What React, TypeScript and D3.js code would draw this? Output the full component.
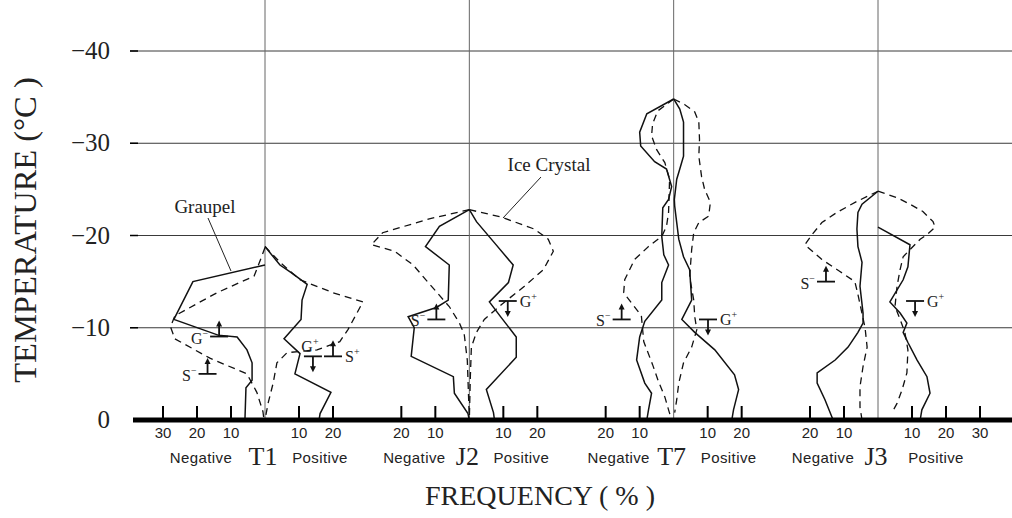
import React from "react";
import * as d3 from "d3";

// Each profile point: [temperature (°C), frequency (%)]
type Pt = [number, number];

const temperatureTicks = [0, -10, -20, -30, -40];
const stations = ["T1", "J2", "T7", "J3"];
const negativeTicks = [[30, 20, 10], [20, 10], [20, 10], [20, 10]];
const positiveTicks = [[10, 20], [10, 20], [10, 20], [10, 20, 30]];

// Graupel (solid) – negatively charged side
const t1GraupelNeg: Pt[] = [[-16.8, 0], [-15.0, 21.2], [-10.9, 26.8], [-9.2, 13.8], [-9.0, 8.2], [-7.6, 5.3], [-6.2, 3.8], [-4.3, 3.8], [-3.5, 5.6], [0, 5.9]];
const j2GraupelNeg: Pt[] = [[-22.8, 0], [-21.0, 8.8], [-18.8, 12.9], [-16.8, 5.9], [-13.0, 6.2], [-12.2, 9.7], [-11.2, 18.0], [-10.0, 16.2], [-6.9, 17.1], [-4.7, 4.7], [-2.9, 4.4], [-0.7, 0.4], [0, 0]];
const t7GraupelNeg: Pt[] = [[-34.8, 0], [-33.2, 7.9], [-31.2, 10.0], [-29.7, 9.7], [-28.0, 5.6], [-27.2, 2.1], [-25.3, 0.6], [-23.9, 1.5], [-23.0, 3.2], [-19.9, 3.5], [-17.9, 2.9], [-16.8, 1.5], [-14.9, 3.5], [-13.0, 3.5], [-10.7, 8.5], [-9.0, 10.0], [-6.5, 10.9], [-4.0, 8.5], [-2.9, 6.5], [-1.1, 7.4], [0, 7.9]];
const j3GraupelNeg: Pt[] = [[-24.8, 0], [-23.4, 4.7], [-22.5, 5.9], [-20.7, 6.2], [-18.8, 5.9], [-17.1, 4.7], [-14.5, 5.3], [-11.6, 4.4], [-10.5, 4.4], [-9.5, 5.9], [-7.9, 8.8], [-6.5, 12.6], [-5.1, 17.9], [-4.0, 17.9], [-2.2, 15.6], [0, 13.2]];

// Graupel (solid) – positively charged side
const t1GraupelPos: Pt[] = [[-18.8, 0], [-16.8, 4.4], [-16.0, 7.6], [-14.7, 12.4], [-13.0, 10.9], [-10.9, 10.6], [-8.8, 5.6], [-7.2, 10.3], [-5.0, 8.8], [-3.0, 19.4], [-0.7, 16.2], [0, 15.9]];
const j2GraupelPos: Pt[] = [[-22.8, 0], [-21.5, 2.1], [-19.2, 7.4], [-16.8, 12.9], [-14.9, 11.5], [-12.8, 5.9], [-11.1, 9.4], [-9.0, 13.8], [-6.8, 13.8], [-3.3, 5.0], [-0.8, 7.1], [0, 7.4]];
const t7GraupelPos: Pt[] = [[-34.8, 0], [-33.7, 1.8], [-32.3, 2.9], [-28.6, 2.9], [-27.2, 1.8], [-26.1, 0.9], [-23.9, 0.2], [-23.2, 0.3], [-21.4, 0.9], [-19.6, 1.5], [-17.7, 2.9], [-16.3, 4.7], [-13.0, 5.3], [-10.9, 2.4], [-9.5, 6.2], [-7.6, 12.1], [-4.9, 17.9], [-3.3, 19.1], [-1.1, 17.6], [0, 17.1]];
const j3GraupelPos: Pt[] = [[-20.9, 0], [-19.0, 9.4], [-16.6, 8.8], [-15.2, 7.4], [-12.8, 3.5], [-11.6, 6.5], [-10.5, 8.5], [-9.5, 7.4], [-8.4, 8.8], [-6.5, 11.5], [-4.7, 14.4], [-2.9, 15.3], [-1.1, 12.9], [0, 12.4]];

// Ice crystal (dashed) – negatively charged side
const t1IceNeg: Pt[] = [[-18.7, 0], [-17.5, 1.2], [-15.6, 3.2], [-13.8, 14.1], [-11.3, 26.5], [-10.1, 27.8], [-8.8, 26.5], [-6.7, 16.2], [-5.0, 5.3], [-3.0, 2.4], [-0.9, 0.6], [0, 0.3]];
const j2IceNeg: Pt[] = [[-22.8, 0], [-21.8, 11.8], [-20.3, 25.5], [-19.0, 28.8], [-18.3, 22.0], [-16.8, 16.5], [-14.9, 12.1], [-12.3, 5.9], [-10.5, 2.9], [-9.3, 1.5], [-6.5, 0.6], [-3.3, 0.3], [0, 0]];
const t7IceNeg: Pt[] = [[-34.8, 0], [-33.5, 4.7], [-32.1, 6.2], [-30.8, 6.5], [-29.3, 5.0], [-27.9, 2.6], [-26.1, 1.2], [-22.5, 1.5], [-21.0, 2.1], [-19.9, 3.5], [-18.8, 7.4], [-17.4, 11.5], [-15.2, 14.4], [-13.8, 14.7], [-11.3, 9.5], [-8.5, 8.8], [-6.0, 6.2], [-4.2, 4.5], [-2.5, 2.6], [-1.1, 1.5], [0, 0.6]];
const j3IceNeg: Pt[] = [[-24.8, 0], [-23.7, 6.2], [-22.5, 12.1], [-21.4, 16.5], [-20.1, 19.4], [-19.0, 21.5], [-17.4, 16.5], [-16.1, 11.2], [-15.0, 6.8], [-13.6, 5.9], [-10.0, 3.8], [-7.9, 3.2], [-5.8, 4.4], [-3.6, 5.3], [-1.4, 5.3], [0, 4.7]];

// Ice crystal (dashed) – positively charged side
const t1IcePos: Pt[] = [[-18.8, 0], [-17.1, 4.4], [-15.2, 10.3], [-13.8, 20.0], [-12.8, 28.8], [-9.8, 24.4], [-8.5, 22.0], [-7.6, 15.3], [-7.3, 6.5], [-6.2, 3.5], [-4.0, 2.4], [-1.8, 0.9], [0, 0]];
const j2IcePos: Pt[] = [[-22.8, 0], [-22.0, 9.4], [-20.7, 19.1], [-19.6, 23.2], [-18.3, 24.7], [-16.3, 21.8], [-14.5, 16.2], [-12.5, 9.4], [-10.9, 4.4], [-9.5, 2.1], [-7.9, 0.6], [-4.7, 0.3], [0, 0]];
const t7IcePos: Pt[] = [[-34.8, 0], [-34.2, 3.2], [-33.4, 6.2], [-32.3, 7.4], [-30.4, 7.6], [-28.6, 7.4], [-26.4, 8.2], [-25.0, 9.1], [-23.6, 10.8], [-22.1, 10.3], [-21.4, 7.4], [-20.3, 5.9], [-18.5, 5.3], [-15.5, 4.7], [-13.0, 5.9], [-11.2, 6.2], [-9.8, 6.8], [-7.9, 5.3], [-6.2, 2.9], [-4.0, 1.5], [-2.2, 0.9], [-0.8, 0.3]];
const j3IcePos: Pt[] = [[-24.8, 0], [-24.1, 5.6], [-23.4, 9.4], [-22.6, 13.2], [-21.5, 16.2], [-20.9, 16.8], [-20.1, 14.4], [-19.6, 12.4], [-17.7, 7.4], [-16.3, 6.5], [-14.5, 5.6], [-12.3, 5.0], [-10.9, 6.5], [-9.5, 7.9], [-7.6, 8.8], [-5.1, 8.5], [-3.3, 7.1], [-1.8, 5.6], [-0.8, 4.1]];

const graupelNeg = [t1GraupelNeg, j2GraupelNeg, t7GraupelNeg, j3GraupelNeg];
const graupelPos = [t1GraupelPos, j2GraupelPos, t7GraupelPos, j3GraupelPos];
const iceNeg = [t1IceNeg, j2IceNeg, t7IceNeg, j3IceNeg];
const icePos = [t1IcePos, j2IcePos, t7IcePos, j3IcePos];

// Charge-reversal markers (G = graupel, S = ice/snow); signed frequency puts them left/right
const markerStations = ["T1", "T1", "T1", "T1", "J2", "J2", "T7", "T7", "J3", "J3"];
const markerTypes = ["G", "S", "G", "S", "S", "G", "S", "G", "S", "G"];
const markerSigns = ["−", "−", "+", "+", "−", "+", "−", "+", "−", "+"];
const markerTemps = [-9.05, -5.0, -6.9, -6.9, -10.9, -12.9, -10.9, -10.9, -15.0, -12.9];
const markerFreqs = [-13.5, -16.9, 14.1, 20.0, -9.7, 11.3, -15.3, 10.1, -15.3, 10.9];
const markerArrows = ["up", "up", "down", "up", "up", "down", "up", "down", "up", "down"];
const markerLabelSides = ["left", "left", "above", "right", "left", "right", "left", "right", "left", "right"];

const negLabelOffset = [64, 55, 55, 55];
const posLabelOffset = [55, 52, 55, 58];

const serif = "'Liberation Serif','Times New Roman',Times,serif";
const sans = "'Liberation Sans',Arial,Helvetica,sans-serif";

export default function App() {
  const W = 1012;
  const H = 518;
  const left = 133;
  const y = d3.scaleLinear().domain([0, -40]).range([420, 51]);
  const station = d3.scalePoint<string>().domain(stations).range([265, 878]);
  const freq = d3.scaleLinear().domain([0, 10]).range([0, 34]);

  const profile = (cx: number, side: number) =>
    d3
      .line<Pt>()
      .x((d) => cx + side * freq(d[1]))
      .y((d) => y(d[0]));

  const arrowPath = (x: number, yb: number, dir: string) => {
    const len = 16;
    const head = 6;
    const tip = dir === "up" ? yb - len : yb + len;
    const s = dir === "up" ? 1 : -1;
    return {
      stem: `M${x},${yb}L${x},${tip + s * head * 0.6}`,
      head: `M${x},${tip}L${x - head / 2},${tip + s * head}L${x + head / 2},${tip + s * head}Z`,
    };
  };

  return (
    <svg
      width={W}
      height={H}
      viewBox={`0 0 ${W} ${H}`}
      style={{ position: "absolute", left: 0, top: 0, background: "#fff" }}
    >
      <rect x={0} y={0} width={W} height={H} fill="#fff" />

      {/* horizontal temperature grid */}
      {temperatureTicks
        .filter((t) => t !== 0)
        .map((t) => (
          <line key={`g${t}`} x1={left - 3} x2={W} y1={y(t)} y2={y(t)} stroke="#3a3a3a" strokeWidth={1} />
        ))}

      {/* station centre lines */}
      {stations.map((s) => (
        <line key={`c${s}`} x1={station(s)} x2={station(s)} y1={0} y2={y(0)} stroke="#666" strokeWidth={1} />
      ))}

      {/* frequency profiles */}
      {stations.map((s, i) => {
        const cx = station(s)!;
        return (
          <g key={`p${s}`} fill="none" stroke="#111">
            <path d={profile(cx, -1)(graupelNeg[i]) || ""} strokeWidth={1.5} />
            <path d={profile(cx, 1)(graupelPos[i]) || ""} strokeWidth={1.5} />
            <path d={profile(cx, -1)(iceNeg[i]) || ""} strokeWidth={1.3} strokeDasharray="7 5" />
            <path d={profile(cx, 1)(icePos[i]) || ""} strokeWidth={1.3} strokeDasharray="7 5" />
          </g>
        );
      })}

      {/* baseline (0 °C) */}
      <line x1={left} x2={W} y1={y(0)} y2={y(0)} stroke="#000" strokeWidth={5} />

      {/* frequency ticks and labels */}
      {stations.map((s, i) => {
        const cx = station(s)!;
        const ticks = [
          ...negativeTicks[i].map((v) => ({ v, x: cx - freq(v) })),
          ...positiveTicks[i].map((v) => ({ v, x: cx + freq(v) })),
        ];
        return (
          <g key={`t${s}`}>
            {ticks.map((t, k) => (
              <g key={k}>
                <line x1={t.x} x2={t.x} y1={y(0) - 14} y2={y(0)} stroke="#000" strokeWidth={2} />
                <text x={t.x} y={438} textAnchor="middle" fontFamily={sans} fontSize={15} fill="#222">
                  {t.v}
                </text>
              </g>
            ))}
            <text x={cx - negLabelOffset[i]} y={463} textAnchor="middle" fontFamily={sans} fontSize={15} letterSpacing={0.4} fill="#222">
              Negative
            </text>
            <text x={cx - 2} y={465} textAnchor="middle" fontFamily={serif} fontSize={26} fill="#222">
              {s}
            </text>
            <text x={cx + posLabelOffset[i]} y={463} textAnchor="middle" fontFamily={sans} fontSize={15} letterSpacing={0.4} fill="#222">
              Positive
            </text>
          </g>
        );
      })}

      {/* temperature axis labels */}
      {temperatureTicks.map((t) => (
        <text key={`yl${t}`} x={110} y={y(t) + 8} textAnchor="end" fontFamily={serif} fontSize={25} fill="#222">
          {t === 0 ? "0" : `−${Math.abs(t)}`}
        </text>
      ))}
      {temperatureTicks
        .filter((t) => t !== 0)
        .map((t) => (
          <line key={`yt${t}`} x1={left - 3} x2={left + 5} y1={y(t)} y2={y(t)} stroke="#000" strokeWidth={1.5} />
        ))}

      <text
        transform={`translate(36,230) rotate(-90)`}
        textAnchor="middle"
        fontFamily={serif}
        fontSize={32.5}
        fill="#222"
      >
        TEMPERATURE (°C )
      </text>
      <text x={540} y={505} textAnchor="middle" fontFamily={serif} fontSize={28} fill="#222">
        FREQUENCY ( % )
      </text>

      {/* series annotations */}
      <text x={205} y={213} textAnchor="middle" fontFamily={serif} fontSize={19} fill="#222">
        Graupel
      </text>
      <line x1={208} y1={218} x2={231} y2={271} stroke="#222" strokeWidth={1} />
      <text x={549} y={171} textAnchor="middle" fontFamily={serif} fontSize={19} fill="#222">
        Ice Crystal
      </text>
      <line x1={541} y1={177} x2={503} y2={218} stroke="#222" strokeWidth={1} />

      {/* charge reversal markers */}
      {markerStations.map((s, i) => {
        const cx = station(s)! + (markerFreqs[i] < 0 ? -1 : 1) * freq(Math.abs(markerFreqs[i]));
        const yb = y(markerTemps[i]);
        const half = 9;
        const a = arrowPath(cx, yb, markerArrows[i]);
        const side = markerLabelSides[i];
        let lx = cx - half - 2;
        let ly = yb + 7;
        let anchor: "end" | "start" | "middle" = "end";
        if (side === "right") {
          lx = cx + half + 3;
          ly = yb + 6;
          anchor = "start";
        } else if (side === "above") {
          lx = cx - 3;
          ly = yb - 4;
          anchor = "middle";
        }
        return (
          <g key={`m${i}`}>
            <line x1={cx - half} x2={cx + half} y1={yb} y2={yb} stroke="#111" strokeWidth={1.8} />
            <path d={a.stem} stroke="#111" strokeWidth={1.8} fill="none" />
            <path d={a.head} fill="#111" />
            <text x={lx} y={ly} textAnchor={anchor} fontFamily={serif} fontSize={16} fill="#222">
              {markerTypes[i]}
              <tspan fontSize={10} dy={-7}>
                {markerSigns[i]}
              </tspan>
            </text>
          </g>
        );
      })}
    </svg>
  );
}
